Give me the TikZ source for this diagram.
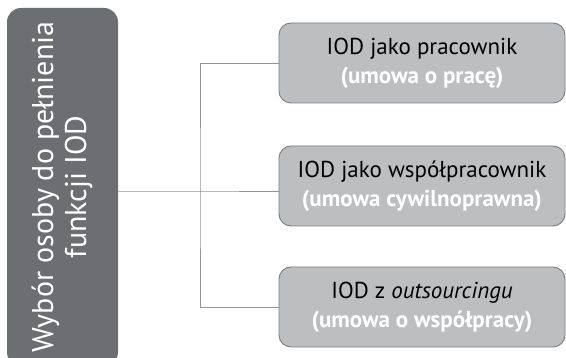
\documentclass[tikz,border=0pt]{standalone}
\usepackage{fontspec}
\setmainfont{PT Sans}
\usetikzlibrary{positioning}
\definecolor{darkgrey}{RGB}{109, 110, 113}
\definecolor{lightgrey}{RGB}{188, 190, 192}
\definecolor{linegrey}{RGB}{147, 149, 152}
\tikzstyle{option} = [draw=darkgrey!90, line width=0.9pt, fill=lightgrey,
    rounded corners=12pt, minimum width=286pt, minimum height=80pt,
    align=center, font=\fontsize{23}{29}\selectfont, inner sep=0pt]

\begin{document}
\begin{tikzpicture}[x=1pt, y=-1pt]

    \useasboundingbox (0, 0) rectangle (566, 358);
    \clip (0, 0) rectangle (566, 358);

    \node[fill=darkgrey, rounded corners=14pt, minimum width=111pt,
        minimum height=358pt, inner sep=0pt, text=white,
        font=\fontsize{30}{36}\selectfont] (choice) at (62.5, 187) {%
        \rotatebox{90}{\begin{tabular}{c}
            Wybór osoby do pełnienia \\[-3pt]
            funkcji IOD
        \end{tabular}}%
    };

    \node[option] (worker) at (422, 63) {%
        IOD jako pracownik \\
        \textcolor{white}{\bfseries (umowa o pracę)}
    };
    \node[option] (partner) at (422, 186) {%
        IOD jako współpracownik \\
        \textcolor{white}{\bfseries (umowa cywilnoprawna)}
    };
    \node[option] (outside) at (422, 307) {%
        IOD z \textit{outsourcingu} \\
        \textcolor{white}{\bfseries (umowa o współpracy)}
    };

    \coordinate (hub) at (200, 191);

    \draw[linegrey, line width=0.8pt] (choice.east |- hub) -- (hub)
        -- (hub -| partner.west);
    \draw[linegrey, line width=0.8pt] (worker.west) -| (hub) |- (outside.west);

\end{tikzpicture}
\end{document}
